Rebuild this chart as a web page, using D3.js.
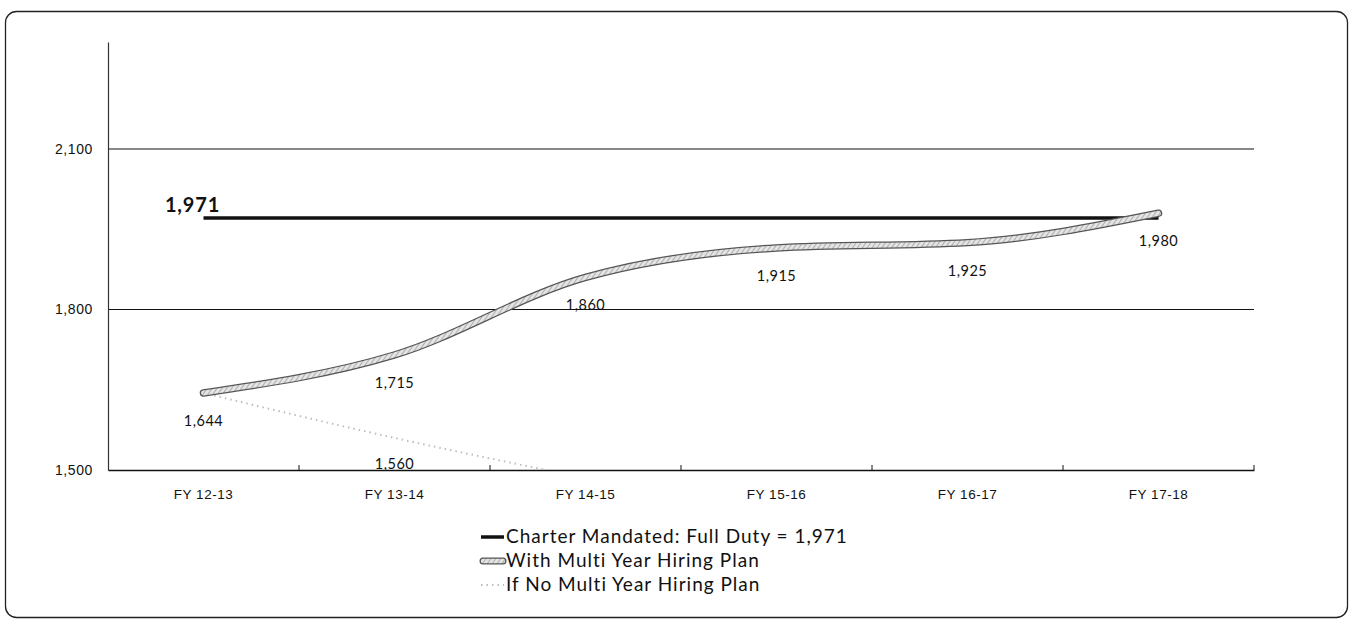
<!DOCTYPE html>
<html>
<head>
<meta charset="utf-8">
<script src="https://cdn.jsdelivr.net/npm/d3@7"></script>
<style>
  body { margin: 0; background: #fff; }
  svg { display: block; font-family: Lato, "Liberation Sans", sans-serif; }
</style>
</head>
<body>
<svg id="chart" width="1351" height="622"></svg>
<script>
const categories = ['FY 12-13', 'FY 13-14', 'FY 14-15', 'FY 15-16', 'FY 16-17', 'FY 17-18'];
const charterValues = [1971, 1971, 1971, 1971, 1971, 1971];
const withPlanValues = [1644, 1715, 1860, 1915, 1925, 1980];
const noPlanValues = [1644, 1560, 1485, null, null, null];
const yTicks = [1500, 1800, 2100];
const legendLabels = ['Charter Mandated: Full Duty = 1,971', 'With Multi Year Hiring Plan', 'If No Multi Year Hiring Plan'];

const svg = d3.select('#chart');
const plot = { left: 108, right: 1254, top: 42, bottom: 470 };
const fmt = d3.format(',');

// hatched fill for the "with plan" ribbon
const defs = svg.append('defs');
const pat = defs.append('pattern')
  .attr('id', 'hatch')
  .attr('width', 4).attr('height', 4)
  .attr('patternUnits', 'userSpaceOnUse')
  .attr('patternTransform', 'rotate(35)');
pat.append('rect').attr('width', 4).attr('height', 4).attr('fill', '#e4e4e4');
pat.append('line').attr('x1', 0).attr('y1', 0).attr('x2', 0).attr('y2', 4)
  .attr('stroke', '#8a8a8a').attr('stroke-width', 1.2);

defs.append('clipPath').attr('id', 'plotClip')
  .append('rect')
  .attr('x', plot.left).attr('y', plot.top)
  .attr('width', plot.right - plot.left).attr('height', plot.bottom - plot.top);

// outer frame
svg.append('rect')
  .attr('x', 5.5).attr('y', 11.5).attr('width', 1342).attr('height', 606)
  .attr('rx', 11).attr('fill', 'none').attr('stroke', '#222').attr('stroke-width', 1.3);

const x = d3.scaleBand().domain(categories).range([plot.left, plot.right]);
const y = d3.scaleLinear().domain([1500, 2300]).range([plot.bottom, plot.top]);
const cx = d => x(d) + x.bandwidth() / 2;

// gridlines
svg.append('g')
  .selectAll('line')
  .data(yTicks.filter(t => t > 1500))
  .join('line')
  .attr('x1', plot.left).attr('x2', plot.right)
  .attr('y1', d => y(d)).attr('y2', d => y(d))
  .attr('stroke', '#111').attr('stroke-width', 1.2);

// y axis
const yAxis = svg.append('g')
  .attr('transform', `translate(${plot.left},0)`)
  .call(d3.axisLeft(y).tickValues(yTicks).tickSize(0).tickPadding(15).tickFormat(fmt));
yAxis.select('.domain').attr('stroke', '#333').attr('stroke-width', 1.2);
yAxis.selectAll('text').attr('font-size', 14).attr('letter-spacing', 0.6).attr('fill', '#111');

// x axis
const xAxis = svg.append('g')
  .attr('transform', `translate(0,${plot.bottom})`)
  .call(d3.axisBottom(x).tickSize(0).tickPadding(19));
xAxis.select('.domain').attr('stroke', '#111').attr('stroke-width', 1.3);
xAxis.selectAll('text').attr('font-size', 13.5).attr('letter-spacing', 0.5).attr('fill', '#111');
svg.append('g')
  .selectAll('line')
  .data(categories.slice(1).map(c => x(c)).concat([plot.right]))
  .join('line')
  .attr('x1', d => d).attr('x2', d => d)
  .attr('y1', plot.bottom).attr('y2', plot.bottom - 5)
  .attr('stroke', '#111');

const series = g => g.map((v, i) => ({ cat: categories[i], v }));

// if no plan: faint dotted line
const dottedLine = d3.line()
  .defined(d => d.v != null)
  .x(d => cx(d.cat)).y(d => y(d.v))
  .curve(d3.curveMonotoneX);
svg.append('path')
  .datum(series(noPlanValues))
  .attr('clip-path', 'url(#plotClip)')
  .attr('d', dottedLine)
  .attr('fill', 'none').attr('stroke', '#bdbdbd')
  .attr('stroke-width', 2).attr('stroke-dasharray', '1.5,4');

// charter mandated line
const flatLine = d3.line().x(d => cx(d.cat)).y(d => y(d.v));
svg.append('path')
  .datum(series(charterValues))
  .attr('d', flatLine)
  .attr('fill', 'none').attr('stroke', '#111').attr('stroke-width', 3.5);

// with plan: thick hatched ribbon
const smooth = d3.line().x(d => cx(d.cat)).y(d => y(d.v)).curve(d3.curveMonotoneX);
const planPath = smooth(series(withPlanValues));
svg.append('path').attr('d', planPath)
  .attr('fill', 'none').attr('stroke', '#555').attr('stroke-width', 7.5).attr('stroke-linecap', 'round');
svg.append('path').attr('d', planPath)
  .attr('fill', 'none').attr('stroke', 'url(#hatch)').attr('stroke-width', 5).attr('stroke-linecap', 'round');

// data labels
svg.append('g')
  .selectAll('text')
  .data(series(withPlanValues))
  .join('text')
  .attr('x', d => cx(d.cat)).attr('y', d => y(d.v) + 33)
  .attr('text-anchor', 'middle').attr('font-size', 14.5).attr('letter-spacing', 0.5).attr('fill', '#111')
  .text(d => fmt(d.v));
svg.append('text')
  .attr('x', cx(categories[1])).attr('y', y(noPlanValues[1]) + 31)
  .attr('text-anchor', 'middle').attr('font-size', 14.5).attr('letter-spacing', 0.5).attr('fill', '#111')
  .text(fmt(noPlanValues[1]));
svg.append('text')
  .attr('x', cx(categories[0]) - 11).attr('y', y(charterValues[0]) - 6)
  .attr('text-anchor', 'middle').attr('font-size', 20).attr('letter-spacing', 0.8)
  .attr('font-weight', 'bold').attr('fill', '#111')
  .text(fmt(charterValues[0]));

// legend
const legend = svg.append('g').attr('transform', 'translate(481,0)');
legend.selectAll('text').data(legendLabels).join('text')
  .attr('x', 25).attr('y', (d, i) => 543 + i * 24)
  .attr('font-size', 19).attr('letter-spacing', 1).attr('fill', '#111')
  .text(d => d);
legend.append('line').attr('x1', 0).attr('x2', 23).attr('y1', 537).attr('y2', 537)
  .attr('stroke', '#111').attr('stroke-width', 3.5);
legend.append('line').attr('x1', 2).attr('x2', 22).attr('y1', 561).attr('y2', 561)
  .attr('stroke', '#555').attr('stroke-width', 7).attr('stroke-linecap', 'round');
legend.append('line').attr('x1', 2).attr('x2', 22).attr('y1', 561).attr('y2', 561)
  .attr('stroke', 'url(#hatch)').attr('stroke-width', 4.5).attr('stroke-linecap', 'round');
legend.append('line').attr('x1', 0).attr('x2', 23).attr('y1', 585).attr('y2', 585)
  .attr('stroke', '#bdbdbd').attr('stroke-width', 2).attr('stroke-dasharray', '1.5,4');
</script>
</body>
</html>
